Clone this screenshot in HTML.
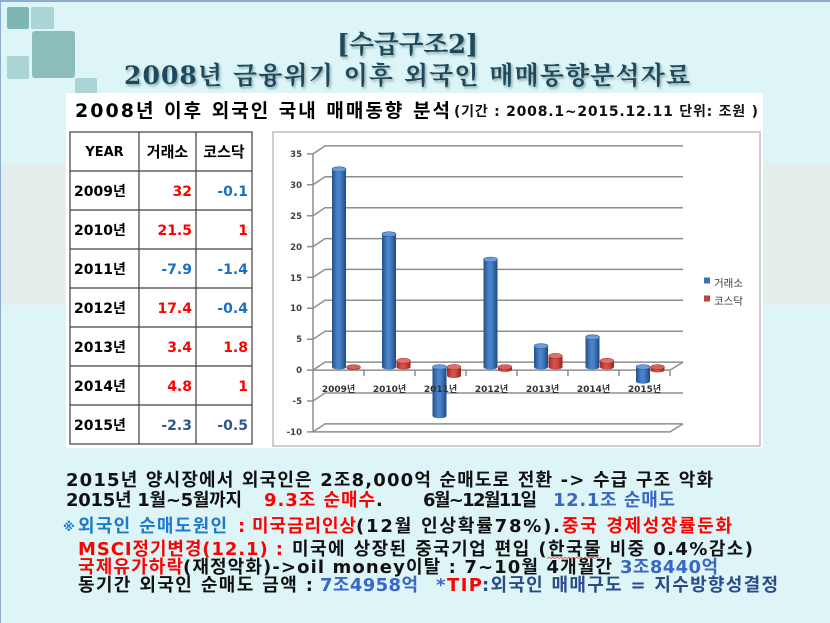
<!DOCTYPE html>
<html>
<head>
<meta charset="utf-8">
<style>
html,body{margin:0;padding:0;background:#DDF5F7;}
svg{display:block;}
.b{font-family:"DejaVu Sans","Noto Sans CJK KR",sans-serif;font-weight:bold;}
.s{font-family:"DejaVu Serif","Noto Serif CJK SC","Noto Sans CJK KR",serif;font-weight:bold;}
</style>
</head>
<body>
<svg width="830" height="623" viewBox="0 0 830 623" xmlns="http://www.w3.org/2000/svg">
<defs>
  <linearGradient id="gb" x1="0" y1="0" x2="1" y2="0">
    <stop offset="0" stop-color="#244F8C"/>
    <stop offset="0.4" stop-color="#4C86CC"/>
    <stop offset="0.6" stop-color="#467FC4"/>
    <stop offset="1" stop-color="#1F4880"/>
  </linearGradient>
  <linearGradient id="gr" x1="0" y1="0" x2="1" y2="0">
    <stop offset="0" stop-color="#A12823"/>
    <stop offset="0.4" stop-color="#D65550"/>
    <stop offset="0.6" stop-color="#CF4C47"/>
    <stop offset="1" stop-color="#98231E"/>
  </linearGradient>
  <filter id="sh" x="-5%" y="-20%" width="110%" height="160%">
    <feDropShadow dx="1.5" dy="2" stdDeviation="1.2" flood-color="#4d6e74" flood-opacity="0.55"/>
  </filter>
</defs>

<!-- background -->
<rect x="0" y="0" width="830" height="623" fill="#DDF5F7"/>
<rect x="0" y="163" width="830" height="142" fill="#E4EEED"/>
<rect x="0" y="0" width="830" height="2" fill="#8DAACF"/>
<rect x="0" y="0" width="1" height="623" fill="#8DAACF"/>

<!-- decorative squares -->
<rect x="7" y="7" width="22" height="22" rx="2" fill="#7DB7B5"/>
<rect x="31" y="7" width="23" height="22" rx="2" fill="#ABD5D4"/>
<rect x="32" y="31" width="43" height="47" rx="3" fill="#8DBDBA"/>
<rect x="7" y="56" width="22" height="23" rx="2" fill="#ABD5D4"/>
<rect x="75" y="78" width="22" height="22" rx="2" fill="#ABD5D4"/>

<!-- titles -->
<g filter="url(#sh)" fill="#1C4A5C">
  <text class="s" x="337" y="53" font-size="26" textLength="141" lengthAdjust="spacing">[수급구조2]</text>
  <text class="s" x="124" y="84" font-size="25" textLength="566" lengthAdjust="spacing">2008년 금융위기 이후 외국인 매매동향분석자료</text>
</g>

<!-- white panel -->
<rect x="66" y="93" width="697" height="355" fill="#FFFFFF"/>
<text class="b" x="75" y="117" font-size="19" fill="#000" textLength="375" lengthAdjust="spacing">2008년 이후 외국인 국내 매매동향 분석</text>
<text class="b" x="454" y="116" font-size="14" fill="#111" textLength="304" lengthAdjust="spacing">(기간 : 2008.1~2015.12.11  단위: 조원 )</text>

<!-- table -->
<g stroke="#404040" stroke-width="1.2" fill="none">
  <rect x="70" y="132" width="182" height="312"/>
  <line x1="139" y1="132" x2="139" y2="444"/>
  <line x1="196" y1="132" x2="196" y2="444"/>
  <line x1="70" y1="171" x2="252" y2="171"/>
  <line x1="70" y1="210" x2="252" y2="210"/>
  <line x1="70" y1="249" x2="252" y2="249"/>
  <line x1="70" y1="288" x2="252" y2="288"/>
  <line x1="70" y1="327" x2="252" y2="327"/>
  <line x1="70" y1="366" x2="252" y2="366"/>
  <line x1="70" y1="405" x2="252" y2="405"/>
</g>
<g class="b" font-size="14">
  <text x="104.5" y="156" text-anchor="middle" font-size="13" fill="#000">YEAR</text>
  <text x="167.5" y="157" text-anchor="middle" font-size="15" fill="#000">거래소</text>
  <text x="224" y="157" text-anchor="middle" font-size="15" fill="#000">코스닥</text>

  <g fill="#000">
    <text x="74" y="196">2009년</text>
    <text x="74" y="235">2010년</text>
    <text x="74" y="274">2011년</text>
    <text x="74" y="313">2012년</text>
    <text x="74" y="352">2013년</text>
    <text x="74" y="391">2014년</text>
    <text x="74" y="430">2015년</text>
  </g>
  <g text-anchor="end">
    <text x="192" y="196" fill="#FF0000">32</text>
    <text x="248" y="196" fill="#1A6FC9">-0.1</text>
    <text x="192" y="235" fill="#FF0000">21.5</text>
    <text x="248" y="235" fill="#FF0000">1</text>
    <text x="192" y="274" fill="#1A6FC9">-7.9</text>
    <text x="248" y="274" fill="#1A6FC9">-1.4</text>
    <text x="192" y="313" fill="#FF0000">17.4</text>
    <text x="248" y="313" fill="#1A6FC9">-0.4</text>
    <text x="192" y="352" fill="#FF0000">3.4</text>
    <text x="248" y="352" fill="#FF0000">1.8</text>
    <text x="192" y="391" fill="#FF0000">4.8</text>
    <text x="248" y="391" fill="#FF0000">1</text>
    <text x="192" y="430" fill="#2F558F">-2.3</text>
    <text x="248" y="430" fill="#2F558F">-0.5</text>
  </g>
</g>

<!-- chart frame -->
<rect x="273" y="132" width="487" height="314" fill="#FFFFFF" stroke="#BDBDBD" stroke-width="1.5"/>

<!-- gridlines -->
<g stroke="#8E8E8E" stroke-width="1.5" fill="none">
  <line x1="313" y1="153.9" x2="313" y2="431.9"/>
  <path d="M307 153.9H313L325 145.9H683"/>
  <path d="M307 184.8H313L325 176.8H683"/>
  <path d="M307 215.7H313L325 207.7H683"/>
  <path d="M307 246.6H313L325 238.6H683"/>
  <path d="M307 277.4H313L325 269.4H683"/>
  <path d="M307 308.3H313L325 300.3H683"/>
  <path d="M307 339.2H313L325 331.2H683"/>
  <path d="M307 370.1H313L325 362.1H683"/>
  <path d="M307 401H313L325 393H683"/>
  <path d="M307 431.9H313L325 423.9H683"/>
  <path d="M313 370.1H670L683 362.1"/>
  <path d="M313 431.9H670L683 423.9"/>
  <path d="M364 370.1V376M415 370.1V376M466 370.1V376M517 370.1V376M568 370.1V376M619 370.1V376M670 370.1V376"/>
</g>

<!-- y labels -->
<g class="b" font-size="8.5" fill="#404040" text-anchor="end">
  <text x="302" y="157">35</text>
  <text x="302" y="188">30</text>
  <text x="302" y="219">25</text>
  <text x="302" y="250">20</text>
  <text x="302" y="281">15</text>
  <text x="302" y="311">10</text>
  <text x="302" y="342">5</text>
  <text x="302" y="373">0</text>
  <text x="302" y="404">-5</text>
  <text x="302" y="435">-10</text>
</g>

<!-- bars: blue -->
<g>
  <rect x="332" y="169.3" width="14" height="197.7" fill="url(#gb)"/>
  <ellipse cx="339" cy="367" rx="7" ry="2.5" fill="url(#gb)"/>
  <ellipse cx="339" cy="169.3" rx="7" ry="2.5" fill="#6A9BD8" stroke="#2B5B9A" stroke-width="0.6"/>
  <rect x="382" y="234.2" width="14" height="132.8" fill="url(#gb)"/>
  <ellipse cx="389" cy="367" rx="7" ry="2.5" fill="url(#gb)"/>
  <ellipse cx="389" cy="234.2" rx="7" ry="2.5" fill="#6A9BD8" stroke="#2B5B9A" stroke-width="0.6"/>
  <rect x="432.5" y="367" width="14" height="48.8" fill="url(#gb)"/>
  <ellipse cx="439.5" cy="415.8" rx="7" ry="2.5" fill="url(#gb)"/>
  <ellipse cx="439.5" cy="367" rx="7" ry="2.5" fill="#6A9BD8" stroke="#2B5B9A" stroke-width="0.6"/>
  <rect x="483.5" y="259.5" width="14" height="107.5" fill="url(#gb)"/>
  <ellipse cx="490.5" cy="367" rx="7" ry="2.5" fill="url(#gb)"/>
  <ellipse cx="490.5" cy="259.5" rx="7" ry="2.5" fill="#6A9BD8" stroke="#2B5B9A" stroke-width="0.6"/>
  <rect x="534" y="346" width="14" height="21" fill="url(#gb)"/>
  <ellipse cx="541" cy="367" rx="7" ry="2.5" fill="url(#gb)"/>
  <ellipse cx="541" cy="346" rx="7" ry="2.5" fill="#6A9BD8" stroke="#2B5B9A" stroke-width="0.6"/>
  <rect x="585.5" y="337.3" width="14" height="29.7" fill="url(#gb)"/>
  <ellipse cx="592.5" cy="367" rx="7" ry="2.5" fill="url(#gb)"/>
  <ellipse cx="592.5" cy="337.3" rx="7" ry="2.5" fill="#6A9BD8" stroke="#2B5B9A" stroke-width="0.6"/>
  <rect x="636" y="367" width="14" height="14.2" fill="url(#gb)"/>
  <ellipse cx="643" cy="381.2" rx="7" ry="2.5" fill="url(#gb)"/>
  <ellipse cx="643" cy="367" rx="7" ry="2.5" fill="#6A9BD8" stroke="#2B5B9A" stroke-width="0.6"/>
</g>

<!-- bars: red -->
<g>
  <rect x="346.5" y="367" width="14" height="0.8" fill="url(#gr)"/>
  <ellipse cx="353.5" cy="367.8" rx="7" ry="2.3" fill="url(#gr)"/>
  <ellipse cx="353.5" cy="367" rx="7" ry="2.3" fill="#D8605B" stroke="#9A2A25" stroke-width="0.5"/>
  <rect x="396.5" y="360.8" width="14" height="6.2" fill="url(#gr)"/>
  <ellipse cx="403.5" cy="367" rx="7" ry="2.5" fill="url(#gr)"/>
  <ellipse cx="403.5" cy="360.8" rx="7" ry="2.5" fill="#E0706B" stroke="#9A2A25" stroke-width="0.5"/>
  <rect x="447" y="367" width="14" height="8.6" fill="url(#gr)"/>
  <ellipse cx="454" cy="375.6" rx="7" ry="2.5" fill="url(#gr)"/>
  <ellipse cx="454" cy="367" rx="7" ry="2.5" fill="#E0706B" stroke="#9A2A25" stroke-width="0.5"/>
  <rect x="498" y="367" width="14" height="2.5" fill="url(#gr)"/>
  <ellipse cx="505" cy="369.5" rx="7" ry="2.4" fill="url(#gr)"/>
  <ellipse cx="505" cy="367" rx="7" ry="2.4" fill="#D8605B" stroke="#9A2A25" stroke-width="0.5"/>
  <rect x="548.5" y="355.9" width="14" height="11.1" fill="url(#gr)"/>
  <ellipse cx="555.5" cy="367" rx="7" ry="2.5" fill="url(#gr)"/>
  <ellipse cx="555.5" cy="355.9" rx="7" ry="2.5" fill="#E0706B" stroke="#9A2A25" stroke-width="0.5"/>
  <rect x="600" y="360.8" width="14" height="6.2" fill="url(#gr)"/>
  <ellipse cx="607" cy="367" rx="7" ry="2.5" fill="url(#gr)"/>
  <ellipse cx="607" cy="360.8" rx="7" ry="2.5" fill="#E0706B" stroke="#9A2A25" stroke-width="0.5"/>
  <rect x="650.5" y="367" width="14" height="3.1" fill="url(#gr)"/>
  <ellipse cx="657.5" cy="370.1" rx="7" ry="2.4" fill="url(#gr)"/>
  <ellipse cx="657.5" cy="367" rx="7" ry="2.4" fill="#D8605B" stroke="#9A2A25" stroke-width="0.5"/>
</g>

<!-- category labels -->
<g class="b" font-size="9" fill="#333" text-anchor="middle">
  <text x="338.5" y="392">2009년</text>
  <text x="389.5" y="392">2010년</text>
  <text x="440.5" y="392">2011년</text>
  <text x="491.5" y="392">2012년</text>
  <text x="542.5" y="392">2013년</text>
  <text x="593.5" y="392">2014년</text>
  <text x="644.5" y="392">2015년</text>
</g>

<!-- legend -->
<rect x="704" y="277.5" width="6" height="6" fill="#3F73B8"/>
<rect x="704" y="295.5" width="6" height="6" fill="#C0403B"/>
<g font-family="DejaVu Sans, Noto Sans CJK KR, sans-serif" font-size="10.5" fill="#404040">
  <text x="714" y="286.5">거래소</text>
  <text x="714" y="304.5">코스닥</text>
</g>

<!-- bottom text -->
<g class="b" font-size="18">
  <text x="66" y="486" fill="#111" textLength="647" lengthAdjust="spacing">2015년 양시장에서 외국인은 2조8,000억 순매도로 전환 -&gt; 수급 구조 악화</text>

  <text x="66" y="506" fill="#111" textLength="176" lengthAdjust="spacing">2015년 1월~5월까지</text>
  <text x="264" y="506" fill="#FF0000" textLength="111" lengthAdjust="spacing">9.3조 순매수</text>
  <text x="376" y="506" fill="#111">.</text>
  <text x="423" y="506" fill="#111" textLength="114" lengthAdjust="spacing">6월~12월11일</text>
  <text x="553" y="506" fill="#3A67C4" textLength="122" lengthAdjust="spacing">12.1조 순매도</text>

  <text x="63" y="531" fill="#1E78D0" font-size="12">※</text>
  <text x="78" y="532" fill="#1E78D0" textLength="149" lengthAdjust="spacing">외국인 순매도원인</text>
  <text x="238" y="532" fill="#FF0000">:</text>
  <text x="252" y="532" fill="#FF0000" textLength="104" lengthAdjust="spacing">미국금리인상</text>
  <text x="356" y="532" fill="#111" textLength="204" lengthAdjust="spacing">(12월 인상확률78%).</text>
  <text x="562" y="532" fill="#FF0000" textLength="170" lengthAdjust="spacing">중국 경제성장률둔화</text>

  <text x="78" y="555" fill="#FF0000" textLength="205" lengthAdjust="spacing">MSCI정기변경(12.1) :</text>
  <text x="292" y="555" fill="#111" textLength="461" lengthAdjust="spacing">미국에 상장된 중국기업 편입 (한국물 비중 0.4%감소)</text>

  <text x="78" y="573" fill="#FF0000" textLength="105" lengthAdjust="spacing">국제유가하락</text>
  <text x="183" y="573" fill="#111" textLength="429" lengthAdjust="spacing">(재정악화)-&gt;oil money이탈 : 7~10월 4개월간</text>
  <text x="620" y="573" fill="#3A67C4" textLength="98" lengthAdjust="spacing">3조8440억</text>

  <text x="78" y="591" fill="#111" textLength="235" lengthAdjust="spacing">동기간 외국인 순매도 금액 :</text>
  <text x="320" y="591" fill="#3A67C4" textLength="98" lengthAdjust="spacing">7조4958억</text>
  <text x="436" y="591" fill="#3A67C4">*</text>
  <text x="447" y="591" fill="#FF0000" textLength="35" lengthAdjust="spacing">TIP</text>
  <text x="482" y="591" fill="#2B4A8A" textLength="296" lengthAdjust="spacing">:외국인 매매구도 = 지수방향성결정</text>
</g>
<path d="M547 558.5l2 -1.2l2 1.2l2 -1.2l2 1.2l2 -1.2l2 1.2l2 -1.2l2 1.2l2 -1.2l2 1.2l2 -1.2l2 1.2l2 -1.2l2 1.2l2 -1.2l2 1.2l2 -1.2l2 1.2l2 -1.2l2 1.2l2 -1.2l2 1.2l2 -1.2l2 1.2l2 -1.2l2 1.2l2 -1.2" stroke="#E03030" stroke-width="0.7" fill="none"/>
</svg>
</body>
</html>
